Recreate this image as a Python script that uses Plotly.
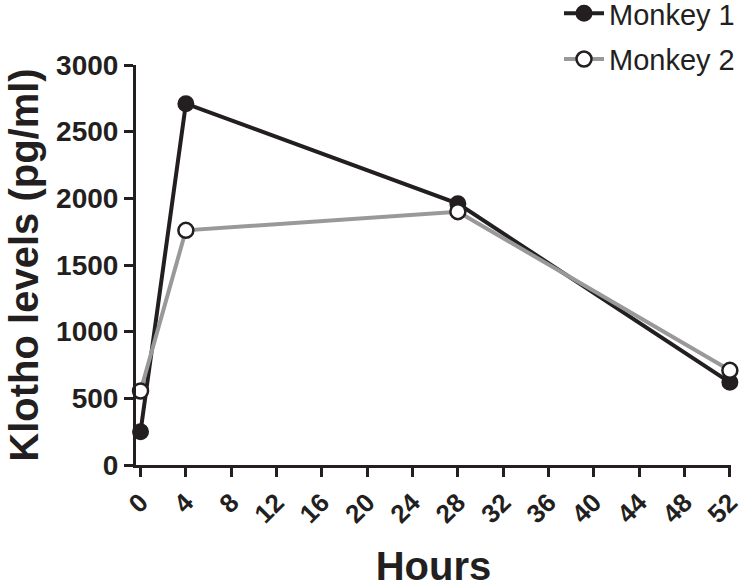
import plotly.graph_objects as go

hours = [0, 4, 28, 52]
monkey1 = [250, 2710, 1960, 620]
monkey2 = [555, 1760, 1900, 710]
x_ticks = list(range(0, 53, 4))
y_ticks = [0, 500, 1000, 1500, 2000, 2500, 3000]

ink = "#231f20"
fig = go.Figure()
fig.add_trace(go.Scatter(
    x=hours, y=monkey1, name="Monkey 1", mode="lines+markers",
    line=dict(color=ink, width=4),
    marker=dict(size=15, color=ink, line=dict(color=ink, width=2)),
    cliponaxis=False, legendgroup="a"))
fig.add_trace(go.Scatter(
    x=hours, y=monkey2, name="Monkey 2", mode="lines+markers",
    line=dict(color="#999999", width=4),
    marker=dict(size=15, color="white", line=dict(color=ink, width=2.5)),
    cliponaxis=False, legendgroup="b"))

fig.update_layout(
    width=745, height=588,
    margin=dict(l=136, r=14, t=65, b=123, autoexpand=False),
    paper_bgcolor="white", plot_bgcolor="white",
    font=dict(family="Liberation Sans, Arial, sans-serif", color=ink),
    legend=dict(x=(559 - 136) / 595, xanchor="left", y=1 + 77 / 400, yanchor="top",
                font=dict(size=29, family="Liberation Sans Narrow, Liberation Sans, Arial", color=ink),
                tracegroupgap=5, itemwidth=40, bgcolor="rgba(0,0,0,0)"),
    xaxis=dict(range=[-0.4, 52.1], tickvals=x_ticks, ticktext=[str(t) for t in x_ticks],
               showgrid=False, zeroline=False, showline=True, linecolor=ink, linewidth=3,
               ticks="outside", ticklen=9, tickwidth=3, tickcolor=ink, tickangle=-45,
               automargin=False, ticklabeloverflow="allow",
               tickfont=dict(size=26, family="Liberation Sans, Arial", weight="bold", color=ink),
               title=dict(text="<b>Hours</b>", font=dict(size=40, color=ink), standoff=33)),
    yaxis=dict(range=[0, 3000], tickvals=y_ticks, showgrid=False, zeroline=False,
               showline=True, linecolor=ink, linewidth=3, automargin=False,
               ticks="outside", ticklen=9, tickwidth=3, tickcolor=ink,
               tickfont=dict(size=28, family="Liberation Sans, Arial", weight="bold", color=ink),
               title=dict(text="<b>Klotho levels (pg/ml)</b>", font=dict(size=40, color=ink), standoff=6)),
)
fig.write_html("out.html", config={"displayModeBar": False},
               post_script="document.body.style.margin='0';document.body.style.overflow='hidden';")
